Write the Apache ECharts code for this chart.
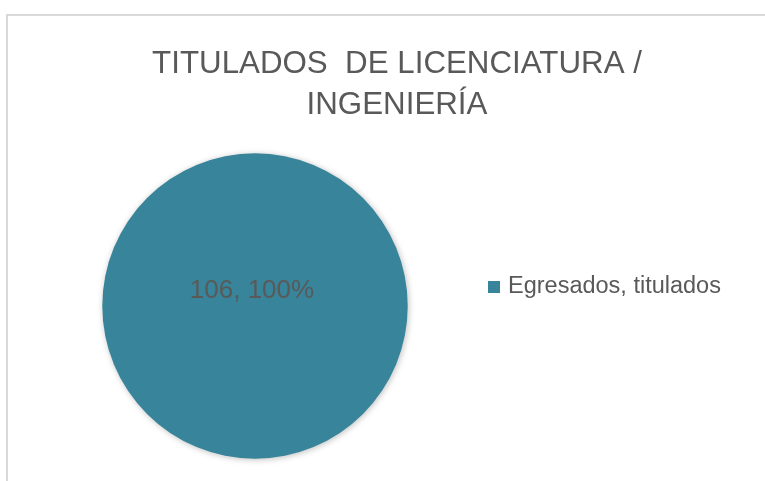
<!DOCTYPE html>
<html lang="es">

<head>
    <meta charset="UTF-8">
    <title>Titulados</title>
    <script type="text/javascript" src="https://cdn.jsdelivr.net/npm/echarts@6/dist/echarts.min.js"></script>
    <style>
        html, body {
            margin: 0;
            padding: 0;
            background-color: #ffffff;
            overflow: hidden;
        }
    </style>
</head>

<body>
    <div style="width: 765px; height: 481px" id="container"></div>
</body>
<script>
    var dom = document.getElementById("container");
    var myChart = echarts.init(dom);

    let categories = ['Egresados, titulados'];
    let values = [106];
    let title = 'TITULADOS  DE LICENCIATURA /\nINGENIERÍA';
    let color = ['#38849a'];

    let total = values.reduce((a, b) => a + b, 0);
    let pieData = categories.map((c, i) => ({ name: c, value: values[i] }));

    var option = {
        backgroundColor: '#ffffff',
        color: color,
        animation: false,
        title: {
            text: title,
            left: 392,
            top: 39,
            textAlign: 'center',
            textStyle: {
                fontFamily: 'Liberation Sans',
                fontSize: 31.3,
                fontWeight: 'normal',
                color: '#595959',
                lineHeight: 41
            }
        },
        legend: {
            orient: 'vertical',
            left: 488,
            top: 275,
            padding: 0,
            icon: 'rect',
            itemWidth: 12,
            itemHeight: 12,
            itemGap: 8,
            textStyle: {
                fontFamily: 'Liberation Sans',
                fontSize: 23.5,
                color: '#595959',
                padding: [0, 0, 0, 3]
            },
            data: categories
        },
        graphic: [{
            type: 'polyline',
            shape: { points: [[7, 481], [7, 15], [765, 15]] },
            style: { stroke: '#d9d9d9', lineWidth: 2, fill: null }
        }],
        series: [{
            type: 'pie',
            radius: '63.5%',
            center: [255, 306],
            data: pieData,
            emphasis: { disabled: true },
            itemStyle: {
                shadowBlur: 6,
                shadowColor: 'rgba(0,0,0,0.25)',
                shadowOffsetX: 1,
                shadowOffsetY: 1
            },
            label: {
                position: 'center',
                offset: [-3, -15],
                fontFamily: 'Liberation Sans',
                fontSize: 26,
                color: '#595959',
                formatter: params => params.value + ', ' + Math.round(params.value / total * 100) + '%'
            },
            labelLine: { show: false }
        }]
    };
    if (option && typeof option === 'object') {
        myChart.setOption(option);
    }
</script>

</html>
